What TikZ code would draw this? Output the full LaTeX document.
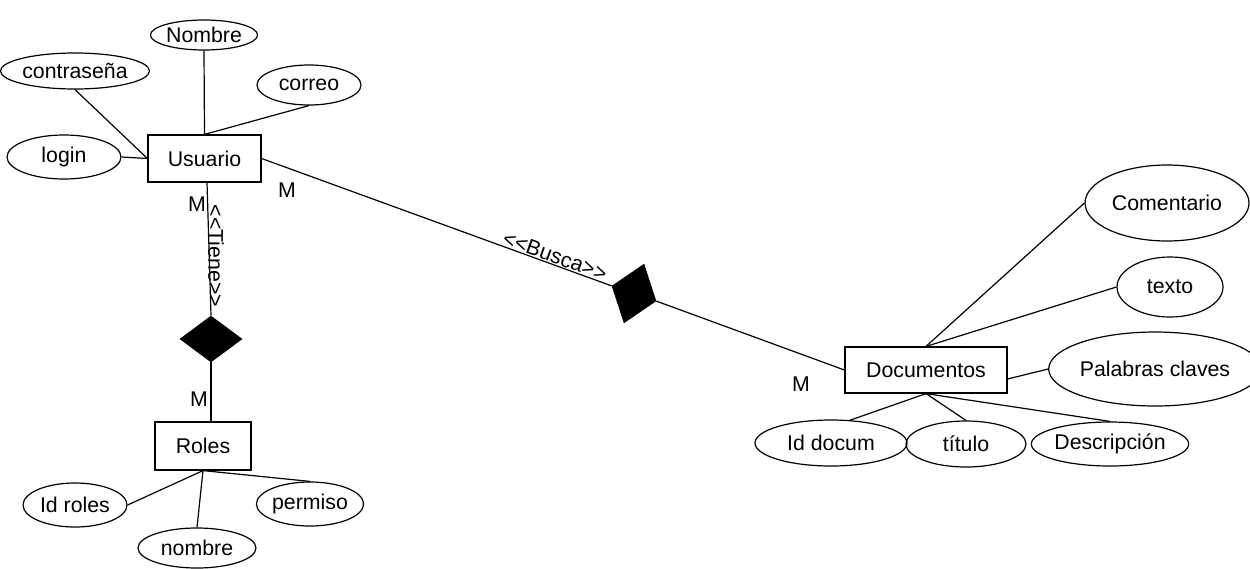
\documentclass[tikz,border=0pt]{standalone}
\usepackage{fontspec}
\setmainfont{Liberation Sans}
\usetikzlibrary{shapes.geometric,calc}
\begin{document}
\begin{tikzpicture}[x=1pt,y=-1pt,line width=1.2pt,
  txt/.style={font=\fontsize{21.3}{25}\selectfont},
  ent/.style={txt,draw,rectangle,inner sep=0pt},
  attr/.style={txt,draw,ellipse,inner sep=0pt},
  rel/.style={diamond,fill=black,draw=black,line width=0.6pt,inner sep=0pt},
  lbl/.style={txt,inner sep=0pt},
  conn/.style={draw=black,line width=1.2pt}]
\useasboundingbox (0,0) rectangle (1250,568);
% entities
\node[ent,minimum width=113pt,minimum height=47pt] (usuario) at (204.5,158.5) {Usuario};
\node[ent,minimum width=96pt,minimum height=48pt] (roles) at (203,446) {Roles};
\node[ent,minimum width=162pt,minimum height=46pt] (documentos) at (926,370) {Documentos};
% attributes
\node[attr,minimum width=104pt,minimum height=30pt] (nombreU) at (204,35) {Nombre};
\node[attr,minimum width=136pt,minimum height=36pt] (contrasena) at (75,71) {contraseña};
\node[attr,minimum width=104pt,minimum height=40pt] (correo) at (309,85) {correo};
\node[attr,minimum width=114pt,minimum height=44pt] (login) at (64,157) {login};
\node[attr,minimum width=104pt,minimum height=44pt] (idroles) at (75,505) {Id roles};
\node[attr,minimum width=118pt,minimum height=40pt] (nombreR) at (197,548) {nombre};
\node[attr,minimum width=104pt,minimum height=44pt] (permiso) at (310,504) {permiso};
\node[attr,minimum width=164pt,minimum height=76pt] (comentario) at (1167,203) {Comentario};
\node[attr,minimum width=106pt,minimum height=60pt] (texto) at (1170,287) {texto};
\node[attr,minimum width=166pt,minimum height=74pt] (palabras) at (1155,369) {Palabras claves};
\node[attr,minimum width=152pt,minimum height=46pt] (iddocum) at (831,443) {Id docum};
\node[attr,minimum width=120pt,minimum height=46pt] (titulo) at (966,444) {título};
\node[attr,minimum width=136pt,minimum height=44pt] (descripcion) at (1110,444) {Descripción};
% relationships
\node[rel,minimum width=62pt,minimum height=46pt] (tiene) at (211,339) {};
\node[rel,rotate=-18.8,minimum width=46.5pt,minimum height=62pt] (busca) at (634,293.5) {};
% connectors
\draw[conn] (nombreU.south) -- (usuario.north);
\draw[conn] (correo.south) -- (usuario.north);
\draw[conn] (contrasena.south) -- (usuario.west);
\draw[conn] (login.east) -- (usuario.west);
\draw[conn] ($(usuario.south)+(2.5,0)$) -- (tiene.north);
\draw[conn] (tiene.south) -- ($(roles.north)+(8,0)$);
\draw[conn] (roles.south) -- (idroles.east);
\draw[conn] (roles.south) -- (nombreR.north);
\draw[conn] (roles.south) -- (permiso.north);
\draw[conn] (usuario.east) -- (busca.west);
\draw[conn] (busca.east) -- (documentos.west);
\draw[conn] (documentos.north) -- (comentario.west);
\draw[conn] (documentos.north) -- (texto.west);
\draw[conn] ($(documentos.east)+(0,9)$) -- (palabras.west);
\draw[conn] (documentos.south) -- (iddocum.50);
\draw[conn] (documentos.south) -- (titulo.north);
\draw[conn] (documentos.south) -- (descripcion.north);
% labels
\node[lbl] (m1) at (197,204) {M};
\node[lbl] (m2) at (287,190) {M};
\node[lbl] (m3) at (199,399) {M};
\node[lbl] (m4) at (801,384) {M};
\node[lbl,rotate=-90] (ltiene) at (216,256) {<{}<Tiene>{}>};
\node[lbl,rotate=-19.8] (lbusca) at (555,256) {<{}<Busca>{}>};
\end{tikzpicture}
\end{document}
